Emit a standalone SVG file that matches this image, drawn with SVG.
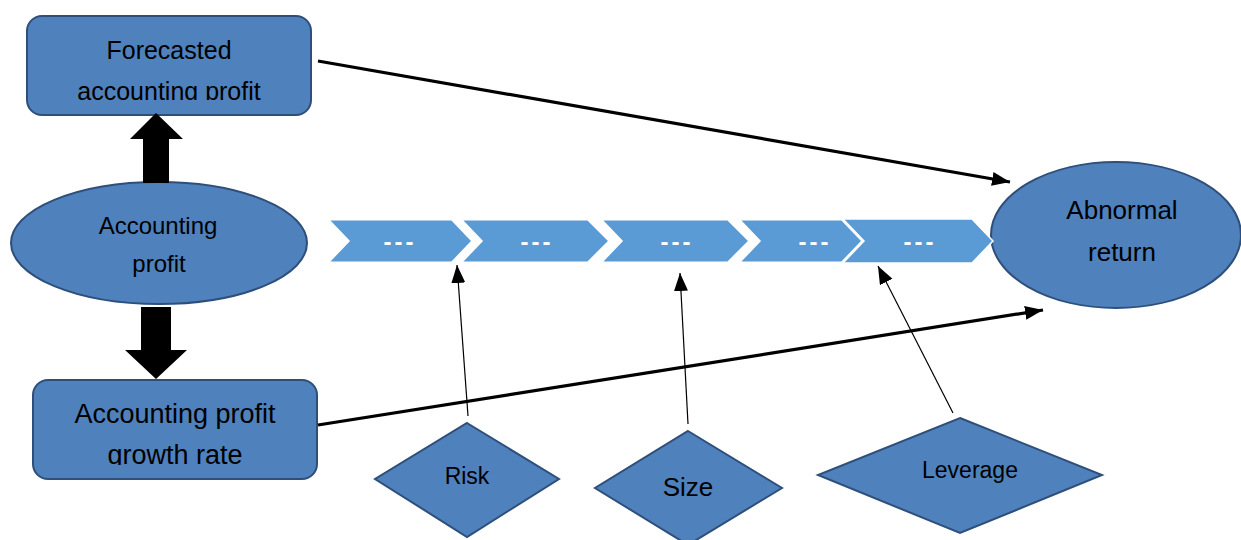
<svg xmlns="http://www.w3.org/2000/svg" width="1241" height="540" viewBox="0 0 1241 540">
<style>
.node{fill:#4F81BD;stroke:#2E4F7A;stroke-width:2}
.chev{fill:#5B9BD5;stroke:#FFFFFF;stroke-width:3}
.t{font-family:"Liberation Sans",Arial,sans-serif;fill:#000;text-anchor:middle}
.dash{font-family:"Liberation Sans",Arial,sans-serif;fill:#FFFFFF;text-anchor:middle;font-size:24px;font-weight:bold;letter-spacing:3px}
.thick{stroke:#000;stroke-width:3.2;fill:none}
.thin{stroke:#000;stroke-width:1.2;fill:none}
</style>
<defs>
<marker id="ahThick" markerUnits="userSpaceOnUse" markerWidth="20" markerHeight="16" refX="18" refY="7" orient="auto">
<path d="M0,0 L18,7 L0,14 Z" fill="#000"/>
</marker>
<marker id="ahThin" markerUnits="userSpaceOnUse" markerWidth="20" markerHeight="16" refX="18" refY="7" orient="auto">
<path d="M0,0 L18,7 L0,14 Z" fill="#000"/>
</marker>
<clipPath id="clipF"><rect x="20" y="10" width="300" height="90"/></clipPath>
<clipPath id="clipG"><rect x="20" y="380" width="310" height="85"/></clipPath>
</defs>

<g id="forecasted">
<rect class="node" x="27" y="16" width="284" height="99" rx="15"/>
<g clip-path="url(#clipF)">
<text class="t" x="169" y="59" font-size="25">Forecasted</text>
<text class="t" x="169" y="100" font-size="25">accounting profit</text>
</g>
</g>

<g id="accounting-profit">
<ellipse class="node" cx="159" cy="243" rx="148" ry="61"/>
<text class="t" x="158" y="234" font-size="24">Accounting</text>
<text class="t" x="159" y="272" font-size="24">profit</text>
</g>

<g id="growth-rate">
<rect class="node" x="33" y="380" width="284" height="99" rx="15"/>
<g clip-path="url(#clipG)">
<text class="t" x="175" y="423" font-size="27">Accounting profit</text>
<text class="t" x="175" y="464" font-size="27">growth rate</text>
</g>
</g>

<g id="abnormal-return">
<ellipse class="node" cx="1116" cy="235" rx="125" ry="73"/>
<text class="t" x="1122" y="219" font-size="26">Abnormal</text>
<text class="t" x="1122" y="261" font-size="26">return</text>
</g>

<g id="process">
<path class="chev" d="M327,219 L452,219 L473,241 L452,263 L327,263 L348,241 Z"/>
<path class="chev" d="M460,219 L588,219 L610,241 L588,263 L460,263 L481,241 Z"/>
<path class="chev" d="M600,219 L728,219 L750,241 L728,263 L600,263 L621,241 Z"/>
<path class="chev" d="M738,219 L842,219 L863,241 L842,263 L738,263 L759,241 Z"/>
<path class="chev" style="stroke-width:1.5" d="M843,219 L972,219 L993,241 L972,263 L843,263 L864,241 Z"/>
<text class="dash" x="400" y="250">---</text>
<text class="dash" x="537" y="250">---</text>
<text class="dash" x="677" y="250">---</text>
<text class="dash" x="815" y="250">---</text>
<text class="dash" x="920" y="250">---</text>
</g>

<g id="risk">
<polygon class="node" points="467,423 559,479 467,537 375,479"/>
<text class="t" x="467" y="484" font-size="23">Risk</text>
</g>

<g id="size">
<polygon class="node" points="688,431 782,488 688,545 595,488"/>
<text class="t" x="688" y="496" font-size="26">Size</text>
</g>

<g id="leverage">
<polygon class="node" points="960,418 1102,475 960,533 818,475"/>
<text class="t" x="970" y="478" font-size="23">Leverage</text>
</g>

<g id="connectors">
<polygon fill="#000" points="143,183 143,139 130,139 156,113 183,139 169,139 169,183"/>
<polygon fill="#000" points="141,307 171,307 171,350 187,350 156,379 125,350 141,350"/>
<line class="thick" x1="318" y1="61" x2="1010" y2="182" marker-end="url(#ahThick)"/>
<line class="thick" x1="318" y1="425" x2="1043" y2="310" marker-end="url(#ahThick)"/>
<line class="thin" x1="468" y1="416" x2="457" y2="265" marker-end="url(#ahThin)"/>
<line class="thin" x1="688" y1="424" x2="680" y2="273" marker-end="url(#ahThin)"/>
<line class="thin" x1="953" y1="413" x2="878" y2="266" marker-end="url(#ahThin)"/>
</g>
</svg>
